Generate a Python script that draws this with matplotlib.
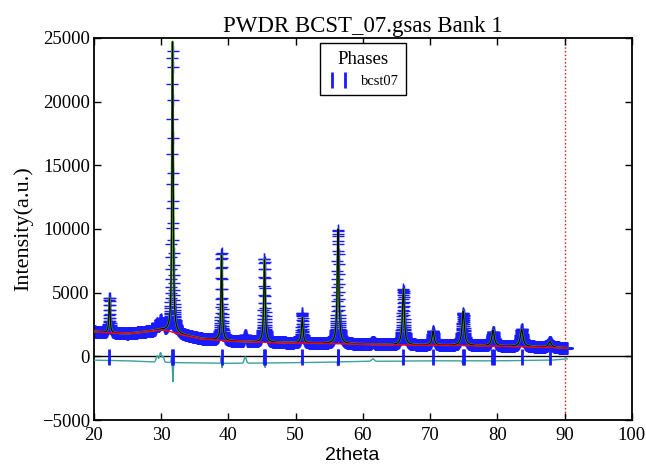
import numpy as np
import matplotlib
matplotlib.use("Agg")
import matplotlib.pyplot as plt

title = "PWDR BCST_07.gsas Bank 1"
phase_name = "bcst07"

# Bragg peaks: position (2theta), net height above background, FWHM
peak_pos    = [22.30, 31.68, 38.98, 45.36, 50.98, 56.30, 66.02, 70.44, 74.92, 79.36, 83.62, 87.82]
peak_height = [2700, 22800, 6700, 6500, 2000, 9000, 4400, 1100, 2700, 1250, 1350, 450]
peak_fwhm   = [0.20, 0.20, 0.22, 0.25, 0.27, 0.28, 0.33, 0.36, 0.40, 0.44, 0.48, 0.52]

# reflection tick positions
refl_pos = [22.30, 31.62, 31.74, 38.98, 45.30, 45.42, 50.98, 56.26, 56.36,
            66.02, 70.40, 74.86, 75.00, 79.28, 79.44, 83.62, 87.82]

# background curve knots
bkg_tth = [20, 22, 25, 28, 30, 31, 33, 36, 40, 45, 50, 55, 60, 65, 70, 75, 80, 85, 90.4]
bkg_val = [1950, 1850, 1780, 1950, 2080, 2000, 1700, 1380, 1200, 1100, 1050, 1000,
           950, 900, 870, 850, 800, 750, 650]

# offset of the difference curve
diff_tth = [20, 25, 29, 33, 40, 50, 55, 60, 70, 80, 88, 90.4]
diff_val = [-300, -350, -450, -500, -550, -500, -450, -400, -350, -350, -300, -200]

# misfit features (obs - calc): center, amplitude, sigma
misfit_pos = [22.22, 22.36, 29.40, 29.90, 30.30, 31.52, 31.74, 38.92, 39.06, 42.50,
              45.28, 45.46, 50.94, 56.24, 56.40, 61.50, 65.96, 66.10, 74.85, 79.30]
misfit_amp = [-250, 200, 500, 750, 450, 500, -1500, 550, -350, 500,
              550, -350, 450, -300, 300, 200, -300, 200, -250, -200]
misfit_sig = [0.04, 0.04, 0.15, 0.15, 0.12, 0.05, 0.05, 0.04, 0.04, 0.15,
              0.04, 0.04, 0.05, 0.05, 0.05, 0.2, 0.05, 0.05, 0.08, 0.08]

tth = np.arange(20.0, 90.42, 0.02)
bkg = np.interp(tth, bkg_tth, bkg_val)
calc = bkg.copy()
for p, h, w in zip(peak_pos, peak_height, peak_fwhm):
    g = (w / 2) ** 2
    calc += h * g / ((tth - p) ** 2 + g)
misfit = np.zeros_like(tth)
for p, a, s in zip(misfit_pos, misfit_amp, misfit_sig):
    misfit += a * np.exp(-0.5 * ((tth - p) / s) ** 2)
obs = calc + misfit
diff = np.interp(tth, diff_tth, diff_val) + misfit

fig = plt.figure(figsize=(6.46, 4.66), dpi=100)
ax = fig.add_axes([0.1455, 0.0987, 0.978 - 0.1455, 0.9185 - 0.0987])

serif = "Liberation Serif"
ax.plot(tth, obs, '+', color='#1a1aff', ms=8, mew=1.0, zorder=2)
ax.plot(tth, calc, '-', color='#4c9a2a', lw=1.6, zorder=3)
ax.plot(tth, calc, '-', color='black', lw=0.8, zorder=3)
ax.plot(tth, bkg, '-', color='red', lw=1.0, zorder=4)
ax.plot(tth, diff, '-', color='#3aa0a0', lw=1.0, zorder=4)
ax.axhline(0, color='black', lw=1.0, zorder=1)
ax.axvline(90, color='red', lw=1.0, ls=':', zorder=1)
ax.plot(refl_pos, [-80] * len(refl_pos), '|', color='#1a1aff', ms=11, mew=2,
        zorder=5, label=phase_name)

ax.set_xlim(20, 100)
ax.set_ylim(-5000, 25000)
ax.set_xticks(np.arange(20, 101, 10))
ax.set_yticks(np.arange(-5000, 25001, 5000))
ax.tick_params(direction='in', top=True, right=True, length=5, width=1,
               labelsize=13.5)
ax.tick_params(axis='x', pad=5)
ax.tick_params(axis='y', pad=3)
for lab in ax.get_xticklabels() + ax.get_yticklabels():
    lab.set_fontfamily(serif)
for s in ax.spines.values():
    s.set_linewidth(1.3)

ax.set_title(title, fontsize=16.5, fontfamily=serif, pad=4)
ax.set_ylabel("Intensity(a.u.)", fontsize=16, fontfamily=serif, labelpad=6)
ax.set_xlabel("2theta", fontsize=14, fontfamily="Liberation Sans")
ax.xaxis.set_label_coords(0.48, -0.07)

leg = ax.legend(loc='upper center', bbox_to_anchor=(0.5, 1.005), title="Phases",
                numpoints=2, fancybox=False, edgecolor='black', framealpha=1,
                prop={'family': serif, 'size': 10.5}, handlelength=1.5,
                borderpad=0.5)
leg.get_title().set_fontfamily(serif)
leg.get_title().set_fontsize(13.5)
leg.get_frame().set_linewidth(1.0)

fig.savefig("out.png", dpi=100)
